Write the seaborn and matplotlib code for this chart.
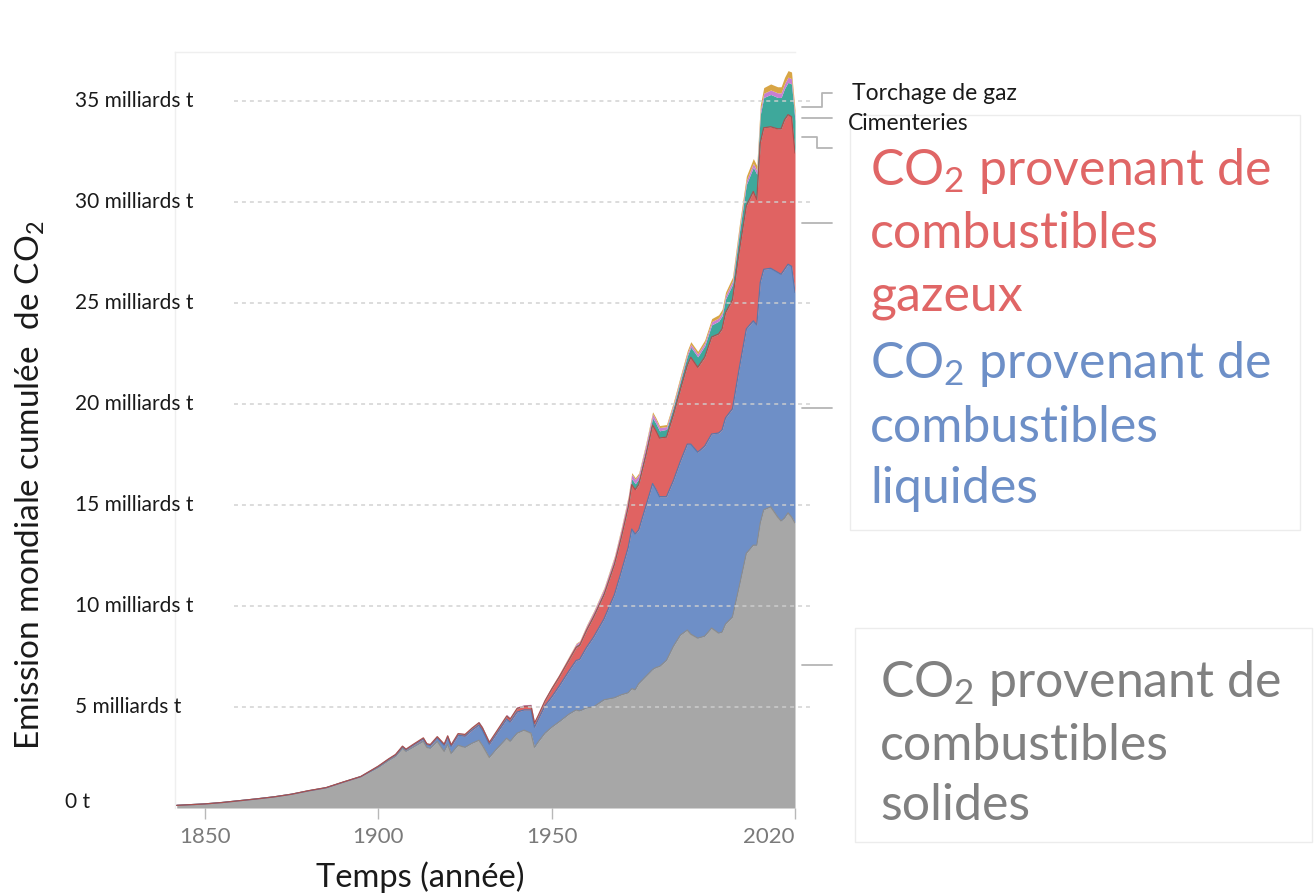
import numpy as np
import pandas as pd
import seaborn as sns
import matplotlib.pyplot as plt
from matplotlib.patches import Rectangle

# émissions annuelles mondiales de CO2 par source (milliards de tonnes)
annees = [1842, 1850, 1855, 1860, 1865, 1870, 1875, 1880, 1885, 1890,
          1895, 1900, 1903, 1905, 1907, 1908, 1910, 1913, 1914, 1915,
          1917, 1919, 1920, 1921, 1923, 1925, 1927, 1929, 1930, 1932,
          1934, 1937, 1938, 1940, 1942, 1944, 1945, 1946, 1948, 1950,
          1952, 1955, 1957, 1958, 1960, 1962, 1965, 1968, 1970, 1972,
          1973, 1974, 1975, 1977, 1979, 1980, 1981, 1983, 1985, 1987,
          1989, 1990, 1992, 1994, 1996, 1998, 1999, 2000, 2002, 2004,
          2006, 2008, 2009, 2010, 2011, 2013, 2015, 2016, 2017, 2018,
          2019, 2020]

solide = [0.13, 0.20, 0.27, 0.36, 0.45, 0.55, 0.68, 0.85, 1.00, 1.28,
          1.55, 2.00, 2.35, 2.55, 2.95, 2.80, 3.00, 3.30, 3.00, 2.95,
          3.30, 2.80, 3.15, 2.70, 3.10, 3.00, 3.20, 3.35, 3.10, 2.50,
          2.90, 3.45, 3.30, 3.70, 3.85, 3.70, 3.00, 3.25, 3.70, 4.00,
          4.25, 4.65, 4.85, 4.80, 4.95, 5.00, 5.35, 5.45, 5.60, 5.70,
          5.90, 5.85, 6.15, 6.50, 6.85, 6.95, 7.00, 7.30, 8.00, 8.55,
          8.80, 8.60, 8.40, 8.50, 8.90, 8.65, 8.70, 9.10, 9.45, 11.0,
          12.6, 13.0, 13.0, 14.1, 14.75, 14.9, 14.4, 14.2, 14.35, 14.6,
          14.4, 14.1]

liquide = [0.0, 0.0, 0.0, 0.0, 0.0, 0.0, 0.0, 0.0, 0.0, 0.0,
           0.0, 0.05, 0.06, 0.07, 0.08, 0.08, 0.10, 0.12, 0.13, 0.14,
           0.17, 0.30, 0.35, 0.35, 0.50, 0.55, 0.65, 0.75, 0.75, 0.65,
           0.75, 0.95, 0.95, 1.05, 1.00, 1.15, 1.00, 1.10, 1.35, 1.50,
           1.75, 2.15, 2.45, 2.55, 3.00, 3.45, 4.00, 5.10, 6.10, 7.20,
           7.90, 7.70, 7.60, 8.40, 9.20, 8.80, 8.40, 8.10, 8.20, 8.60,
           9.20, 9.40, 9.20, 9.40, 9.60, 9.90, 10.0, 10.2, 10.3, 10.8,
           11.1, 11.1, 10.9, 11.9, 11.9, 11.8, 12.1, 12.2, 12.3, 12.3,
           12.4, 11.4]

gazeux = [0.0, 0.0, 0.0, 0.0, 0.0, 0.0, 0.0, 0.01, 0.01, 0.01,
          0.01, 0.02, 0.02, 0.03, 0.03, 0.03, 0.04, 0.05, 0.05, 0.05,
          0.06, 0.06, 0.07, 0.07, 0.08, 0.09, 0.10, 0.12, 0.12, 0.10,
          0.12, 0.15, 0.15, 0.18, 0.18, 0.20, 0.20, 0.20, 0.25, 0.40,
          0.45, 0.55, 0.65, 0.70, 0.85, 1.00, 1.20, 1.50, 1.70, 2.00,
          2.20, 2.20, 2.25, 2.50, 2.90, 2.90, 2.90, 2.95, 3.25, 3.55,
          3.90, 4.30, 4.20, 4.40, 4.80, 4.90, 5.00, 5.20, 5.40, 5.80,
          6.10, 6.40, 6.20, 6.90, 7.00, 7.00, 7.10, 7.20, 7.40, 7.40,
          7.40, 6.90]

ciment = [0.0, 0.0, 0.0, 0.0, 0.0, 0.0, 0.0, 0.0, 0.0, 0.0,
          0.0, 0.0, 0.0, 0.0, 0.0, 0.0, 0.0, 0.01, 0.01, 0.01,
          0.01, 0.01, 0.02, 0.02, 0.02, 0.03, 0.03, 0.04, 0.04, 0.03,
          0.04, 0.05, 0.05, 0.05, 0.05, 0.04, 0.03, 0.04, 0.05, 0.06,
          0.07, 0.09, 0.10, 0.11, 0.13, 0.15, 0.18, 0.21, 0.24, 0.27,
          0.29, 0.29, 0.29, 0.32, 0.35, 0.36, 0.36, 0.38, 0.40, 0.43,
          0.47, 0.50, 0.52, 0.56, 0.60, 0.63, 0.65, 0.68, 0.75, 0.90,
          1.05, 1.20, 1.25, 1.40, 1.50, 1.60, 1.55, 1.55, 1.55, 1.60,
          1.62, 1.60]

torchage = [0.0, 0.0, 0.0, 0.0, 0.0, 0.0, 0.0, 0.0, 0.0, 0.0,
            0.0, 0.0, 0.0, 0.0, 0.0, 0.0, 0.0, 0.0, 0.0, 0.0,
            0.0, 0.0, 0.01, 0.01, 0.01, 0.01, 0.02, 0.02, 0.02, 0.02,
            0.02, 0.03, 0.03, 0.03, 0.03, 0.04, 0.04, 0.04, 0.05, 0.05,
            0.06, 0.07, 0.08, 0.08, 0.09, 0.10, 0.12, 0.15, 0.18, 0.20,
            0.22, 0.22, 0.20, 0.20, 0.20, 0.18, 0.16, 0.14, 0.13, 0.13,
            0.13, 0.14, 0.14, 0.15, 0.16, 0.16, 0.16, 0.17, 0.18, 0.19,
            0.19, 0.19, 0.19, 0.20, 0.21, 0.22, 0.23, 0.23, 0.24, 0.26,
            0.26, 0.24]

autre = [0.0, 0.0, 0.0, 0.0, 0.0, 0.0, 0.0, 0.0, 0.0, 0.0,
         0.0, 0.0, 0.0, 0.0, 0.0, 0.0, 0.0, 0.0, 0.0, 0.0,
         0.0, 0.0, 0.0, 0.0, 0.0, 0.0, 0.0, 0.0, 0.0, 0.0,
         0.0, 0.0, 0.0, 0.0, 0.0, 0.0, 0.0, 0.0, 0.0, 0.02,
         0.02, 0.03, 0.03, 0.03, 0.04, 0.04, 0.05, 0.06, 0.07, 0.08,
         0.08, 0.08, 0.08, 0.09, 0.10, 0.10, 0.10, 0.10, 0.11, 0.12,
         0.13, 0.13, 0.13, 0.14, 0.15, 0.16, 0.16, 0.17, 0.18, 0.20,
         0.22, 0.24, 0.24, 0.26, 0.28, 0.30, 0.30, 0.30, 0.31, 0.32,
         0.33, 0.30]

graduations_y = [5, 10, 15, 20, 25, 30, 35]
etiquettes_y = ["5 milliards t", "10 milliards t", "15 milliards t", "20 milliards t",
                "25 milliards t", "30 milliards t", "35 milliards t"]
graduations_x = [1850, 1900, 1950, 2020]

df = pd.DataFrame({"annee": annees, "solide": solide, "liquide": liquide, "gazeux": gazeux,
                   "ciment": ciment, "torchage": torchage, "autre": autre})
couches = ["solide", "liquide", "gazeux", "ciment", "torchage", "autre"]
couleurs = ["#a7a7a7", "#6e8fc7", "#e06362", "#3ea89b", "#c77fd2", "#d8a545"]
bords = ["#8c8c8c", "#5a77aa", "#a8504f", None, None, None]

sns.set_theme(style="white")
plt.rcParams['font.family'] = ['Lato', 'DejaVu Sans']
plt.rcParams['mathtext.fontset'] = 'custom'
plt.rcParams['mathtext.rm'] = 'Lato'
plt.rcParams['mathtext.it'] = 'Lato:italic'
plt.rcParams['mathtext.bf'] = 'Lato:bold'

W, H = 1316, 894
fig = plt.figure(figsize=(W / 100, H / 100), dpi=100)
ax = fig.add_axes([175 / W, 86 / H, 620 / W, 756 / H])

cumul = df[couches].cumsum(axis=1)
bas = np.zeros(len(df))
for nom, coul in zip(couches, couleurs):
    haut = cumul[nom].values
    ax.fill_between(df["annee"], bas, haut, color=coul, lw=0, zorder=2)
    bas = haut
for nom, bord in zip(couches, bords):
    if bord:
        sns.lineplot(x=df["annee"], y=cumul[nom].values, ax=ax, color=bord, lw=0.9, zorder=3)

ax.set_xlim(1841.5, 2020)
ax.set_ylim(0, 37.4)

# grille pointillée
for v in graduations_y:
    ax.axhline(v, xmin=0.095, xmax=1.024, color="#cfcfcf", ls=(0, (2.2, 2.2)), lw=1.3,
               alpha=0.8, clip_on=False, zorder=4)

# étiquettes y
ty = ax.get_yaxis_transform()
for v, lab in zip(graduations_y, etiquettes_y):
    ax.text(-0.161, v, lab, transform=ty, ha="left", va="center", fontsize=15, color="#1a1a1a")
ax.text(-0.177, 0.3, "0 t", transform=ty, ha="left", va="center", fontsize=15, color="#1a1a1a")
ax.set_yticks([])
ax.set_ylabel("")
ax.set_xlabel("")

ax.set_xticks(graduations_x)
ax.set_xticklabels([str(a) for a in graduations_x])
ax.tick_params(axis="x", bottom=True, length=8, width=1, color="#b8b8b8",
               labelcolor="#7a7a7a", labelsize=16, pad=6)
ax.get_xticklabels()[-1].set_ha("right")

for s in ["right", "bottom"]:
    ax.spines[s].set_visible(False)
for s in ["left", "top"]:
    ax.spines[s].set_color("#efefef")
    ax.spines[s].set_linewidth(1)

# traits de rappel vers les étiquettes
fin = cumul.iloc[-1]
debut = cumul.iloc[-1] - df[couches].iloc[-1]
mil = (fin + debut) / 2
trait = dict(color="#b5b5b5", lw=1.3, clip_on=False, transform=ty)
for nom in ["solide", "liquide", "gazeux", "torchage"]:
    ax.plot([1.012, 1.06], [mil[nom], mil[nom]], **trait)
yc = mil["ciment"]
ax.plot([1.012, 1.035, 1.035, 1.06], [yc, yc, yc - 0.55, yc - 0.55], **trait)
ya = mil["autre"]
ax.plot([1.012, 1.043, 1.043, 1.06], [ya + 0.3, ya + 0.3, ya + 1.0, ya + 1.0], **trait)


def px(x, y):
    return x / W, 1 - y / H


fig.text(*px(852, 100), "Torchage de gaz", fontsize=16.5, color="#1a1a1a", va="baseline")
fig.text(*px(848, 130), "Cimenteries", fontsize=16.5, color="#1a1a1a", va="baseline")

blocs = [
    (870, [185, 248, 310], ["CO$_2$ provenant de", "combustibles", "gazeux"], "#e06666"),
    (870, [378, 442, 503], ["CO$_2$ provenant de", "combustibles", "liquides"], "#6d8fc7"),
    (880, [697, 760, 820], ["CO$_2$ provenant de", "combustibles", "solides"], "#808080"),
]
for x0, bases, lignes, coul in blocs:
    for yb, txt in zip(bases, lignes):
        fig.text(*px(x0, yb), txt, fontsize=36, color=coul, va="baseline", ha="left")

# cadres pâles autour des légendes
fig.add_artist(Rectangle(px(850, 530), 450 / W, 415 / H, transform=fig.transFigure,
                         fill=False, edgecolor="#ececec", lw=1))
fig.add_artist(Rectangle(px(855, 842), 457 / W, 214 / H, transform=fig.transFigure,
                         fill=False, edgecolor="#ececec", lw=1))

fig.text(*px(30, 485), "Emission mondiale cumulée  de CO$_2$", rotation=90,
         fontsize=24, color="#1a1a1a", ha="center", va="center")
fig.text(*px(420, 877), "Temps (année)", fontsize=23.5, color="#1a1a1a", ha="center", va="center")

fig.savefig("out.png", dpi=100)
